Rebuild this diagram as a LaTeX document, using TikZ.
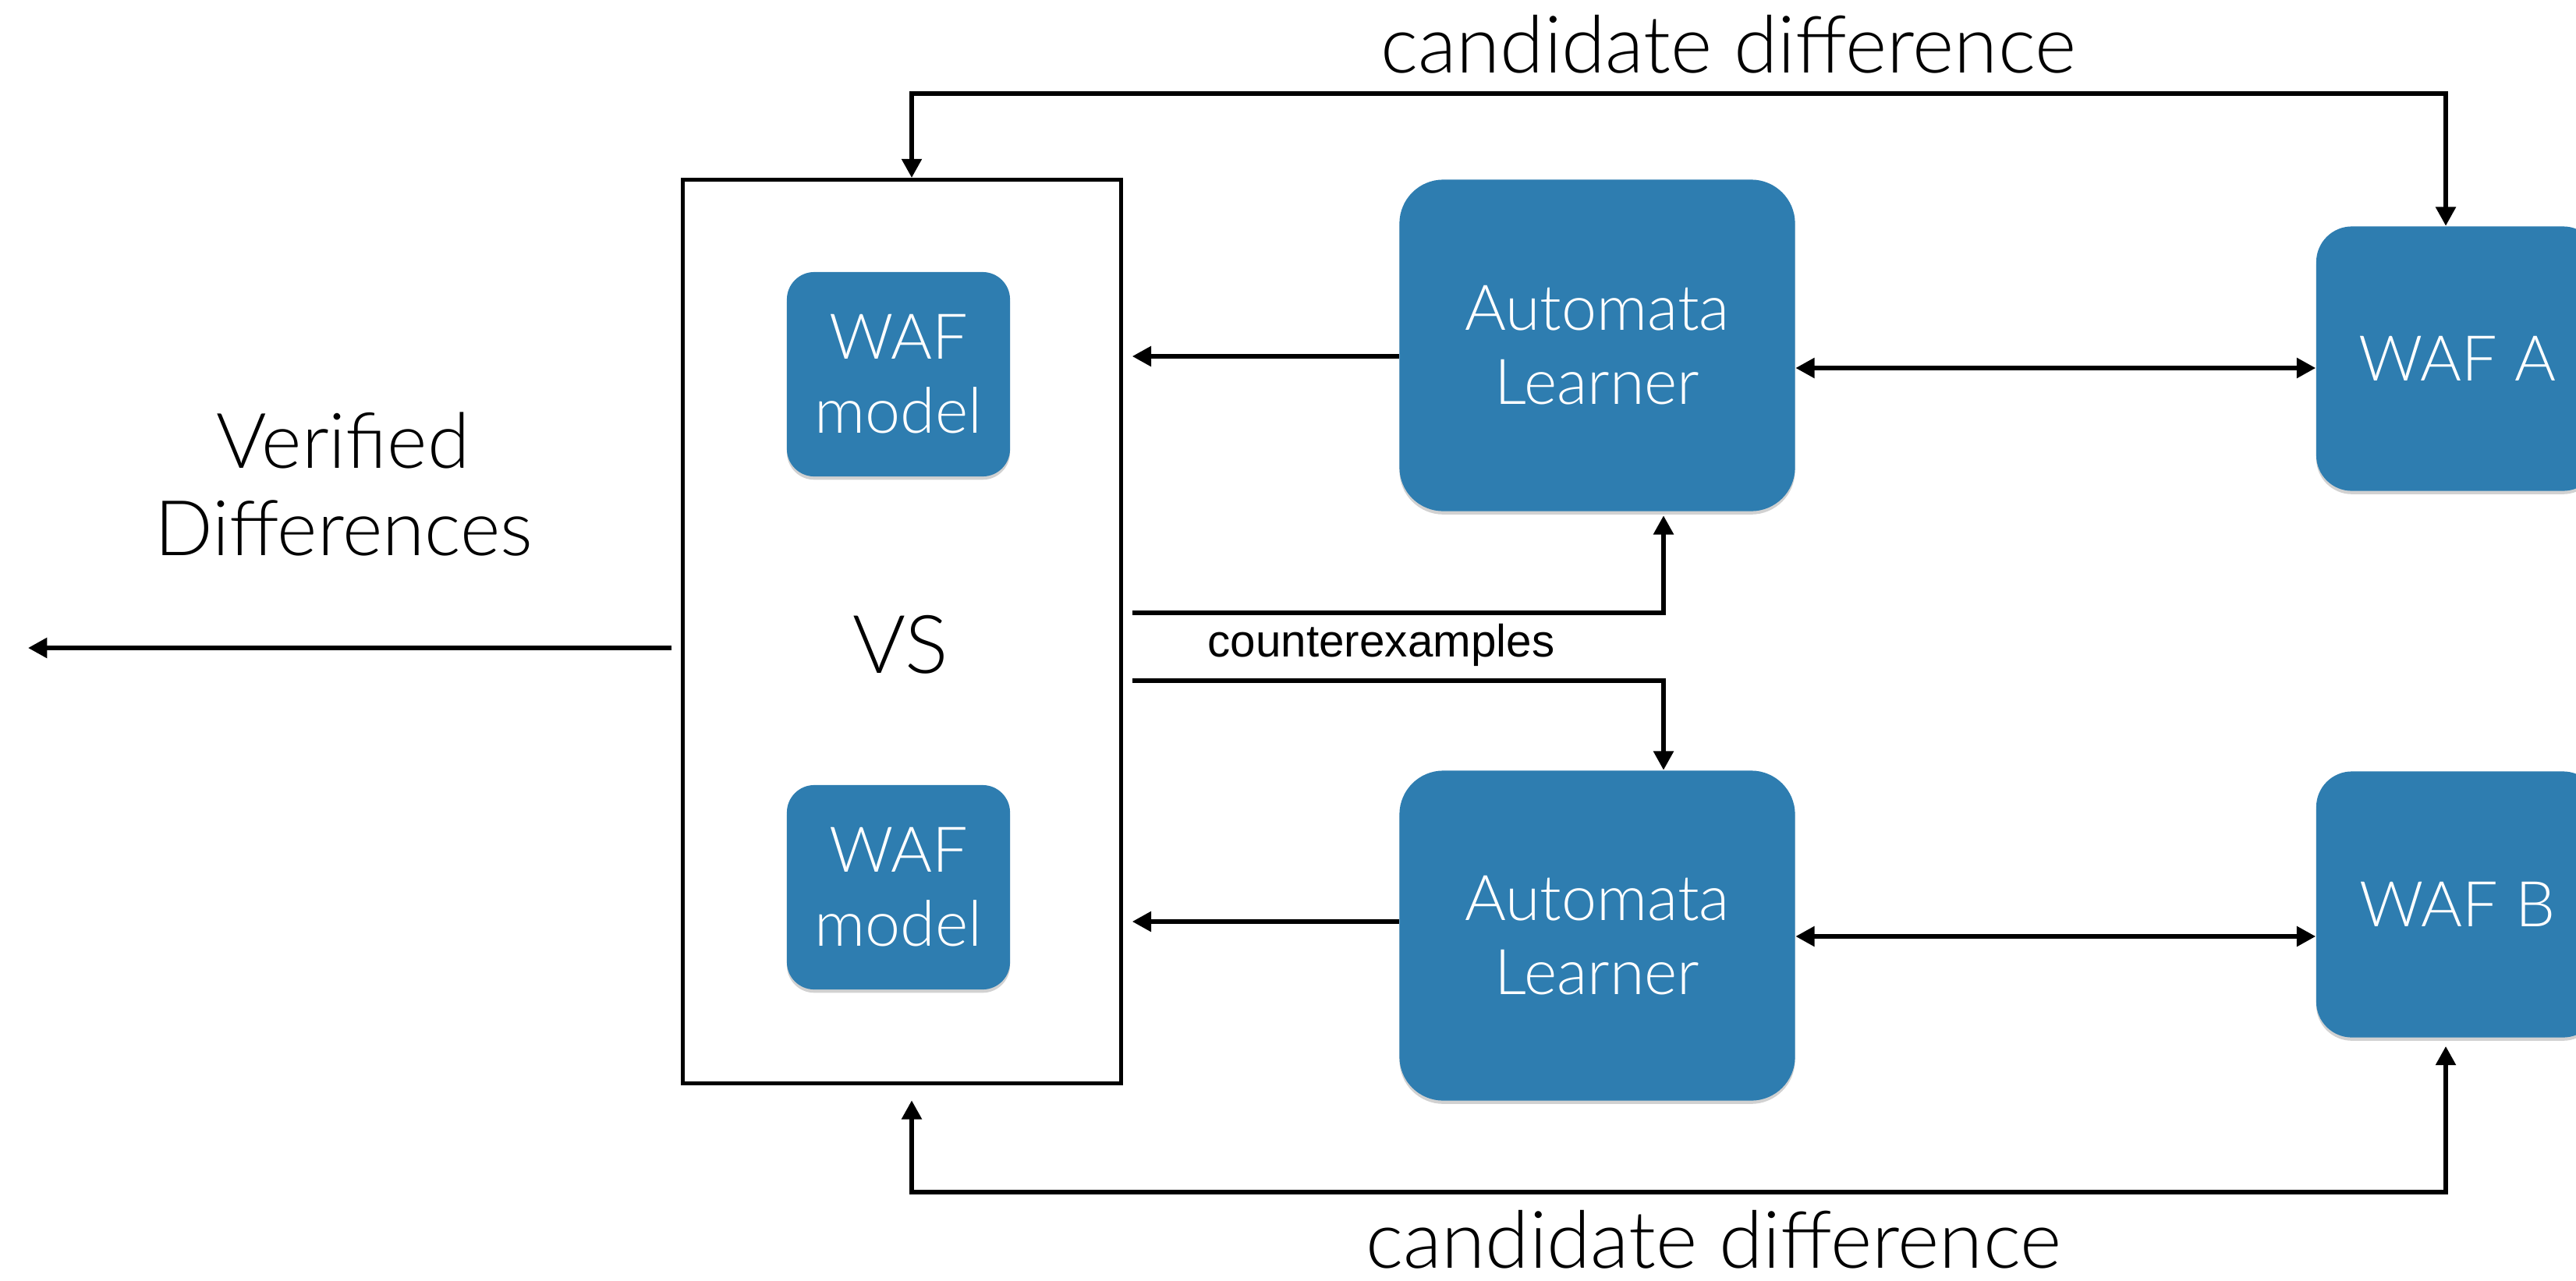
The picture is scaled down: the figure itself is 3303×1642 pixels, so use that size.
\documentclass[tikz,border=0pt]{standalone}
\usepackage{fontspec}
\IfFontExistsTF{Lato Light}{\setmainfont{Lato Light}}{\setmainfont{Liberation Sans}}
\newfontfamily\smallfont{Liberation Sans}
\usetikzlibrary{arrows.meta,shadows}

\definecolor{boxblue}{RGB}{46,125,176}

\tikzset{
  conn/.style={line width=1.6pt, draw=black},
  arr/.style={conn, -{Triangle[length=6.9pt,width=7.1pt]}},
  darr/.style={conn, {Triangle[length=6.9pt,width=7.1pt]}-{Triangle[length=6.9pt,width=7.1pt]}},
  bluebox/.style={fill=boxblue, text=white, align=center, inner sep=0pt,
    font=\fontsize{23}{27}\selectfont,
    drop shadow={shadow xshift=0pt, shadow yshift=-1.2pt, opacity=0.18, fill=black}},
  frame/.style={draw=black, line width=1.5pt, inner sep=0pt},
  bigtext/.style={inner sep=0pt, font=\fontsize{29}{33}\selectfont},
  sidetext/.style={inner sep=0pt, font=\fontsize{28}{32}\selectfont},
  smalltext/.style={inner sep=0pt, font=\smallfont\fontsize{16.6}{19}\selectfont},
}

\begin{document}
\begin{tikzpicture}[x=0.01cm, y=-0.01cm]
  \useasboundingbox (0,0) rectangle (3303,1642);
  \clip (0,0) rectangle (3303,1642);

  % verifier frame and its two models
  \node[frame, minimum width=5.61cm, minimum height=11.58cm] (vs) at (1156.5,810) {};
  \node[anchor=base, inner sep=0pt, font=\fontsize{29.5}{33}\selectfont] (vstext) at (1155,863) {VS};
  \node[bluebox, rounded corners=10pt, minimum width=2.86cm, minimum height=2.62cm] (m1) at (1152,480) {WAF\\model};
  \node[bluebox, rounded corners=10pt, minimum width=2.86cm, minimum height=2.62cm] (m2) at (1152,1138) {WAF\\model};

  % learners
  \node[bluebox, rounded corners=16pt, minimum width=5.07cm, minimum height=4.25cm] (al1) at (2048,443) {Automata\\Learner};
  \node[bluebox, rounded corners=16pt, minimum width=5.07cm, minimum height=4.23cm] (al2) at (2048,1200) {Automata\\Learner};

  % firewalls under test
  \node[bluebox, rounded corners=13pt, minimum width=3.62cm, minimum height=3.39cm] (wa) at (3151,460) {WAF A};
  \node[bluebox, rounded corners=13pt, minimum width=3.62cm, minimum height=3.41cm] (wb) at (3151,1160) {WAF B};

  % routing levels
  \coordinate (ytop) at (0,120);
  \coordinate (ybot) at (0,1529);
  \coordinate (xvs) at (1169,0);
  \coordinate (xwaf) at (3136,0);
  \coordinate (xce) at (2133,0);
  \coordinate (yl1) at (0,457);
  \coordinate (yl2) at (0,1182);
  \coordinate (yq1) at (0,472);
  \coordinate (yq2) at (0,1201);
  \coordinate (yc1) at (0,786);
  \coordinate (yc2) at (0,873);
  \coordinate (yvd) at (0,831);
  \coordinate (vdend) at (36,831);

  % learned models handed to the verifier
  \draw[arr, shorten >=3.4pt] (al1.west |- yl1) -- (vs.east |- yl1);
  \draw[arr, shorten >=3.4pt] (al2.west |- yl2) -- (vs.east |- yl2);

  % membership queries
  \draw[darr] (al1.east |- yq1) -- (wa.west |- yq1);
  \draw[darr] (al2.east |- yq2) -- (wb.west |- yq2);

  % counterexamples back to the learners
  \draw[arr, shorten <=3.4pt, shorten >=1.4pt] (vs.east |- yc1) -- (xce |- yc1) -- (al1.south -| xce);
  \draw[arr, shorten <=3.4pt] (vs.east |- yc2) -- (xce |- yc2) -- (al2.north -| xce);
  \node[smalltext, anchor=base west] (ce) at (1548,842) {counterexamples};

  % candidate differences checked on the real firewalls
  \draw[darr] (vs.north -| xvs) -- (xvs |- ytop) -- (xwaf |- ytop) -- (wa.north -| xwaf);
  \draw[darr, shorten <=5.5pt, shorten >=3pt] (vs.south -| xvs) -- (xvs |- ybot) -- (xwaf |- ybot) -- (wb.south -| xwaf);
  \node[bigtext, anchor=base] (cdtop) at (2216,93) {candidate difference};
  \node[bigtext, anchor=base] (cdbot) at (2197,1626) {candidate difference};

  % output
  \draw[arr, shorten <=3.4pt] (vs.west |- yvd) -- (vdend);
  \node[sidetext, anchor=base] (vd1) at (440,600) {Verified};
  \node[sidetext, anchor=base] (vd2) at (441,712) {Differences};
\end{tikzpicture}
\end{document}
